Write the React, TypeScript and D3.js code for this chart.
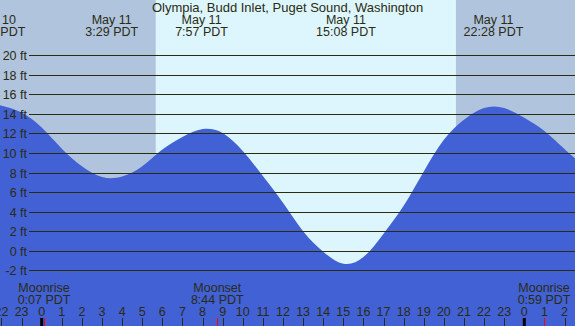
import * as d3 from 'd3';

// tide readings (hour of May 11, feet)
const tideHours = [-2.1, -1, 0, 1, 2, 3, 4, 5, 6, 7, 8, 9, 10, 11, 12, 13, 14, 15, 16, 17, 18, 19, 20, 21, 22, 23, 24, 25, 26, 26.55];
const tideFeet = [14.9, 14.15, 12.6, 10.45, 8.65, 7.55, 7.6, 8.65, 10.35, 11.65, 12.45, 12.05, 10.2, 7.65, 4.9, 2.0, -0.1, -1.33, -0.65, 1.75, 4.6, 8.1, 11.35, 13.4, 14.6, 14.6, 13.6, 12.25, 10.4, 9.4];

// high / low tide labels
const eventHours = [-2.3, 3.483, 7.95, 15.133, 22.467];
const eventDates = ['May 10', 'May 11', 'May 11', 'May 11', 'May 11'];
const eventTimes = ['21:42 PDT', '3:29 PDT', '7:57 PDT', '15:08 PDT', '22:28 PDT'];

// moon
const moonHours = [0.117, 8.733, 24.983];
const moonNames = ['Moonrise', 'Moonset', 'Moonrise'];
const moonTimes = ['0:07 PDT', '8:44 PDT', '0:59 PDT'];

// sun
const sunrise = 5.67;
const sunset = 20.6;

const feetTicks = [-2, 0, 2, 4, 6, 8, 10, 12, 14, 16, 18, 20];
const hourTicks = d3.range(-2, 27);

const W = 575;
const H = 326;
const FONT = '"Liberation Sans", Arial, sans-serif';
const INK = '#2b2b12';

export default function App() {
  const x = d3.scaleLinear().domain([-2.074, 26.522]).range([0, W]);
  const y = d3.scaleLinear().domain([-2, 20]).range([270.3, 55.3]);

  const pts = tideHours.map((h, i) => [h, tideFeet[i]] as [number, number]);
  const area = d3
    .area<[number, number]>()
    .x(d => x(d[0]))
    .y0(H)
    .y1(d => y(d[1]))
    .curve(d3.curveNatural);

  return (
    <svg
      width={W}
      height={H}
      style={{ position: 'fixed', left: 0, top: 0, fontFamily: FONT }}
    >
      <rect x={0} y={0} width={W} height={H} fill="#b0c4de" />
      <rect x={x(sunrise)} y={0} width={x(sunset) - x(sunrise)} height={H} fill="#ddf6fe" />

      <path d={area(pts) || ''} fill="#4161d4" />

      {feetTicks.map(v => {
        const yy = Math.round(y(v)) + 0.5;
        return (
          <g key={v}>
            <line x1={29} x2={W} y1={yy} y2={yy} stroke={INK} strokeWidth={1.2} />
            <text x={27} y={yy + 4.5} textAnchor="end" fontSize={12.5} fill={INK}>
              {v} ft
            </text>
          </g>
        );
      })}

      <text x={W / 2} y={12} textAnchor="middle" fontSize={13} fill={INK}>
        Olympia, Budd Inlet, Puget Sound, Washington
      </text>

      {eventHours.map((h, i) => (
        <g key={i} fill={INK} fontSize={12.5} textAnchor="middle">
          <text x={x(h)} y={24}>{eventDates[i]}</text>
          <text x={x(h)} y={36}>{eventTimes[i]}</text>
        </g>
      ))}

      {moonHours.map((h, i) => (
        <g key={i} fill={INK} fontSize={12.5} textAnchor="middle">
          <text x={x(h)} y={292}>{moonNames[i]}</text>
          <text x={x(h)} y={304}>{moonTimes[i]}</text>
        </g>
      ))}

      {hourTicks.map(h => {
        const xx = x(h);
        const midnight = h % 24 === 0;
        return (
          <g key={h}>
            <text x={xx} y={316} textAnchor="middle" fontSize={12.5} fill={INK}>
              {((h % 24) + 24) % 24}
            </text>
            <line
              x1={midnight ? xx : Math.round(xx) + 0.5}
              x2={midnight ? xx : Math.round(xx) + 0.5}
              y1={318}
              y2={H}
              stroke={midnight ? '#000' : INK}
              strokeWidth={midnight ? 3 : 1}
            />
          </g>
        );
      })}

      {moonHours.map((h, i) => (
        <line
          key={i}
          x1={Math.round(x(h)) + 0.5}
          x2={Math.round(x(h)) + 0.5}
          y1={318}
          y2={H}
          stroke="#ff0000"
          strokeWidth={1}
        />
      ))}
    </svg>
  );
}
